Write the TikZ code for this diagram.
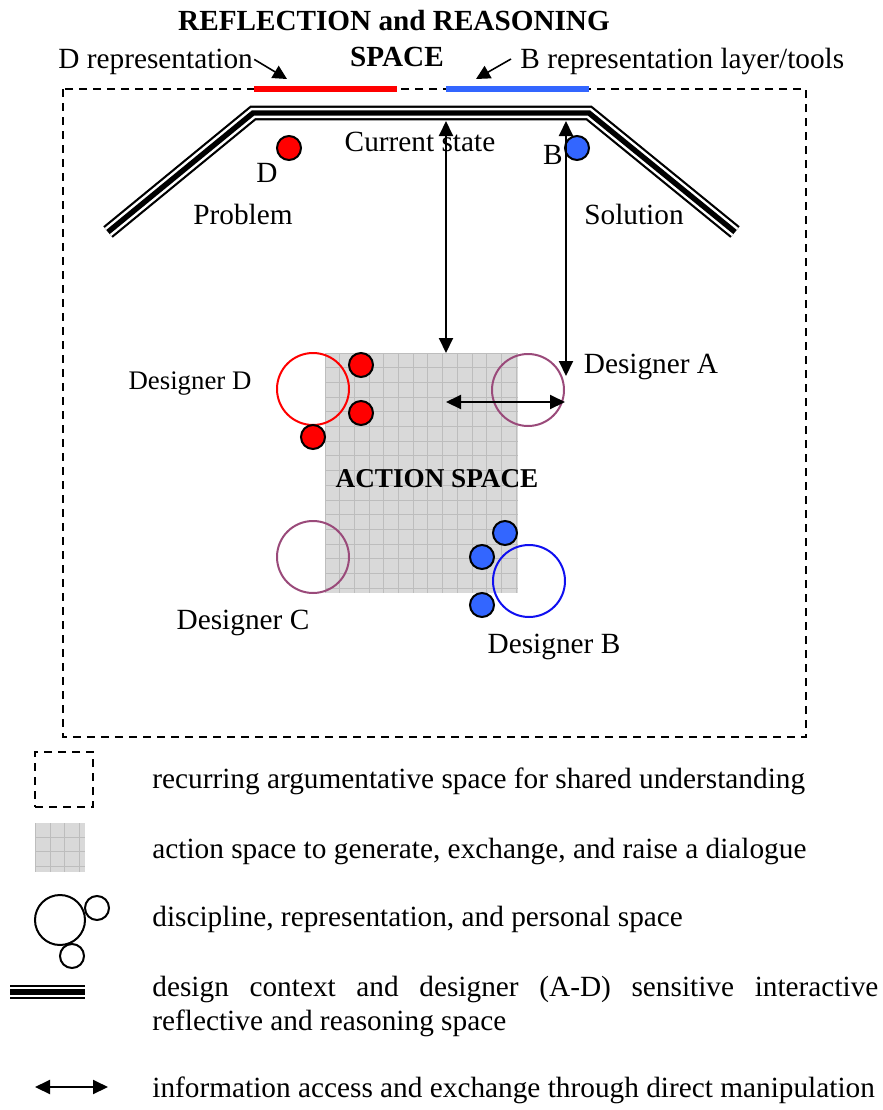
\documentclass[tikz,border=0pt]{standalone}
\usepackage{fontspec}
\setmainfont{Liberation Serif}
\usetikzlibrary{arrows.meta}
\definecolor{dred}{HTML}{FF0000}
\definecolor{dblue}{HTML}{3366FF}
\definecolor{cblue}{HTML}{1010F0}
\definecolor{cpurp}{HTML}{9A4A7A}
\definecolor{gfill}{HTML}{D9D9D9}
\definecolor{gline}{HTML}{BDBDBD}
\tikzset{
  lbl/.style={font=\fontsize{14.65}{17}\selectfont, inner sep=0pt},
  slbl/.style={font=\fontsize{13.4}{16}\selectfont, inner sep=0pt},
  blbl/.style={font=\fontsize{14.6}{17}\selectfont\bfseries, inner sep=0pt},
  abl/.style={font=\fontsize{13.6}{16}\selectfont\bfseries, inner sep=0pt},
  dot/.style={circle, draw=black, line width=1pt, fill=#1, minimum size=12pt, inner sep=0pt},
  pcircle/.style={circle, draw=#1, line width=1pt, minimum size=36pt, inner sep=0pt},
  dashbox/.style={draw=black, line width=0.75pt, dash pattern=on 4pt off 3pt},
  arr/.style={line width=1pt, {Triangle[length=7.5pt,width=7pt]}-{Triangle[length=7.5pt,width=7pt]}},
  parr/.style={line width=0.8pt, -{Triangle[length=7pt,width=7pt]}},
  tripleA/.style={line width=7.4pt, draw=black, line cap=butt, line join=miter},
  tripleB/.style={line width=5.2pt, draw=white, line cap=butt, line join=miter},
  tripleC/.style={line width=2.7pt, draw=black, line cap=butt, line join=miter},
}
\begin{document}
\begin{tikzpicture}[x=0.5pt,y=-0.5pt]
\useasboundingbox (0,0) rectangle (883,1110);

% recurring dashed space
\draw[dashbox] (63,89) rectangle (806,737);
% representation layers on the top edge
\draw[dred, line width=3pt] (254,89) -- (397,89);
\draw[dblue, line width=3pt] (446,89) -- (589,89);

% title
\node[blbl, anchor=base] (title1) at (394,30) {REFLECTION and REASONING};
\node[blbl, anchor=base] (title2) at (397,66) {SPACE};

% pointer labels
\node[lbl, anchor=base west] (drep) at (58,68) {D representation};
\node[lbl, anchor=base west] (brep) at (520,68) {B representation layer/tools};
\coordinate (dtip) at (287,79);
\coordinate (btip) at (476,79);
\draw[parr] (drep.east) ++(1,-2) coordinate (dstart) (dstart) -- (dtip);
\draw[parr] (brep.west) ++(-9,-2) coordinate (bstart) (bstart) -- (btip);

% reflective and reasoning space (triple line)
\coordinate (t1) at (108,232);
\coordinate (t2) at (253,113);
\coordinate (t3) at (589,113);
\coordinate (t4) at (735,232);
\draw[tripleA] (t1) -- (t2) -- (t3) -- (t4);
\draw[tripleB] (t1) -- (t2) -- (t3) -- (t4);
\draw[tripleC] (t1) -- (t2) -- (t3) -- (t4);

% labels in reasoning space
\node[lbl] (cur) at (420,142) {Current state};
\node[lbl] (prob) at (243,214) {Problem};
\node[lbl] (sol) at (634,214) {Solution};
\node[dot=dred] (dD) at (289,148) {};
\node[lbl] (lD) at (267,173) {D};
\node[dot=dblue] (dB) at (577,148) {};
\node[lbl] (lB) at (553,155) {B};

% action space grid
\fill[gfill] (325,353) rectangle (518,593);
\begin{scope}
\clip (325,353) rectangle (518,593);
\foreach \i in {0,...,13} {
  \draw[gline, line width=0.5pt] ({325+\i*14.7},353) -- ({325+\i*14.7},593);
}
\foreach \i in {0,...,16} {
  \draw[gline, line width=0.5pt] (325,{353+\i*14.7}) -- (518,{353+\i*14.7});
}
\end{scope}
\node[inner sep=0pt, minimum width=96.5pt, minimum height=120pt] (act) at (421.5,473) {};
\node[abl] (actl) at (437,479) {ACTION SPACE};

% designers
\node[pcircle=dred] (cD) at (313,389) {};
\node[pcircle=cpurp] (cA) at (528,390) {};
\node[pcircle=cpurp] (cC) at (313,557) {};
\node[pcircle=cblue] (cB) at (529,581) {};
\node[dot=dred] (rd1) at (361,365) {};
\node[dot=dred] (rd2) at (361,413) {};
\node[dot=dred] (rd3) at (313,437) {};
\node[dot=dblue] (bd1) at (505,533) {};
\node[dot=dblue] (bd2) at (482,557) {};
\node[dot=dblue] (bd3) at (482,605) {};
\node[slbl] (lDD) at (190,384) {Designer D};
\node[lbl] (lDA) at (651,367) {Designer A};
\node[lbl] (lDC) at (243,623) {Designer C};
\node[lbl] (lDB) at (554,647) {Designer B};

% information exchange arrows
\coordinate (v1top) at (446,121);
\coordinate (v1bot) at (446,353);
\coordinate (v2top) at (566,121);
\coordinate (v2bot) at (566,376);
\coordinate (h1l) at (446,402);
\coordinate (h1r) at (565,402);
\draw[arr] (v1top) -- (v1bot);
\draw[arr] (v2top) -- (v2bot);
\draw[arr] (h1l) -- (h1r);

% legend
\node[dashbox, minimum width=29pt, minimum height=27.5pt, inner sep=0pt] (lg1) at (64,779.5) {};
\fill[gfill] (35,823) rectangle (85,872);
\begin{scope}
\clip (35,823) rectangle (85,872);
\foreach \i in {0,...,3} {
  \draw[gline, line width=0.5pt] ({35+\i*14.7+0.3},823) -- ({35+\i*14.7+0.3},872);
  \draw[gline, line width=0.5pt] (35,{837+\i*14.7-14.7}) -- (85,{837+\i*14.7-14.7});
}
\end{scope}
\node[inner sep=0pt, minimum width=25pt, minimum height=24.5pt] (lg2) at (60,847.5) {};
\node[circle, draw=black, line width=1pt, minimum size=25pt, inner sep=0pt] (lg3a) at (60,920) {};
\node[circle, draw=black, line width=1pt, minimum size=12pt, inner sep=0pt] (lg3b) at (97,908) {};
\node[circle, draw=black, line width=1pt, minimum size=12pt, inner sep=0pt] (lg3c) at (72,956) {};
\coordinate (lg4l) at (10,992);
\coordinate (lg4r) at (85,992);
\draw[tripleA] (lg4l) -- (lg4r);
\draw[tripleB] (lg4l) -- (lg4r);
\draw[tripleC] (lg4l) -- (lg4r);
\coordinate (lg5l) at (35,1087);
\coordinate (lg5r) at (108,1087);
\draw[arr] (lg5l) -- (lg5r);

\node[lbl, anchor=base west] (tx1) at (152,788) {recurring argumentative space for shared understanding};
\node[lbl, anchor=base west] (tx2) at (152,858) {action space to generate, exchange, and raise a dialogue};
\node[lbl, anchor=base west] (tx3) at (152,926) {discipline, representation, and personal space};
\node[lbl, anchor=base west] (tx4) at (152,996) {\makebox[363pt][s]{design context and designer (A-D) sensitive interactive}};
\node[lbl, anchor=base west] (tx5) at (152,1030) {reflective and reasoning space};
\node[lbl, anchor=base west] (tx6) at (152,1097) {information access and exchange through direct manipulation};
\end{tikzpicture}
\end{document}
